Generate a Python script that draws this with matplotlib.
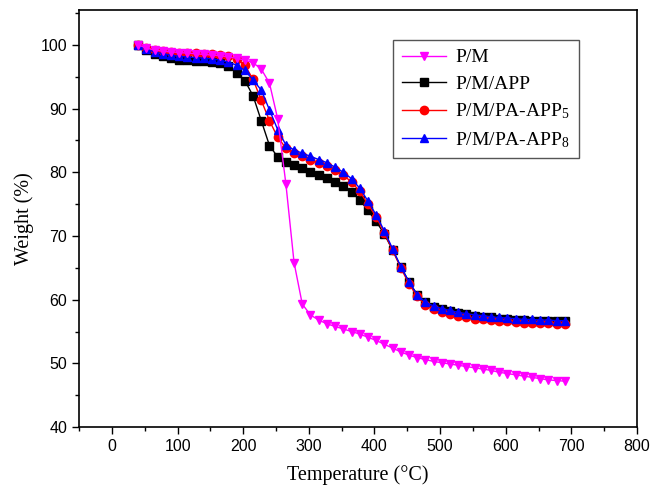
import numpy as np
import matplotlib
matplotlib.use("Agg")
import matplotlib.pyplot as plt
from matplotlib.ticker import MultipleLocator

plt.rcParams['mathtext.fontset'] = 'custom'
plt.rcParams['mathtext.rm'] = 'Liberation Serif'
plt.rcParams['mathtext.it'] = 'Liberation Serif:italic'

temperature = [40 + 12.5 * i for i in range(53)]

pm = [100.0, 99.5, 99.2, 99.0, 98.9, 98.8, 98.7, 98.6, 98.5, 98.4, 98.3, 98.1, 97.9,
      97.6, 97.2, 96.2, 94.0, 88.4, 78.2, 65.8, 59.3, 57.6, 56.8, 56.2, 55.8, 55.4,
      55.0, 54.6, 54.1, 53.6, 53.0, 52.4, 51.8, 51.3, 50.9, 50.6, 50.3, 50.1, 49.9,
      49.7, 49.5, 49.3, 49.1, 48.9, 48.6, 48.4, 48.2, 48.0, 47.8, 47.6, 47.4, 47.3, 47.2]

pm_app = [100.0, 99.2, 98.6, 98.2, 97.9, 97.7, 97.6, 97.5, 97.4, 97.3, 97.1, 96.7, 95.6,
          94.4, 92.0, 88.1, 84.2, 82.4, 81.6, 81.1, 80.6, 80.1, 79.6, 79.1, 78.5, 77.8,
          76.9, 75.7, 74.0, 72.3, 70.3, 67.8, 65.2, 62.8, 60.8, 59.6, 58.9, 58.5, 58.2,
          57.9, 57.7, 57.5, 57.3, 57.2, 57.0, 56.9, 56.8, 56.8, 56.7, 56.7, 56.6, 56.6, 56.6]

pm_pa_app5 = [100.0, 99.5, 99.2, 99.0, 98.9, 98.8, 98.7, 98.7, 98.6, 98.5, 98.4, 98.2, 97.8,
              96.8, 94.6, 91.3, 88.1, 85.5, 83.8, 83.0, 82.5, 82.0, 81.5, 81.0, 80.3, 79.5,
              78.5, 77.0, 75.0, 73.0, 70.5, 67.8, 65.0, 62.5, 60.5, 59.2, 58.5, 58.0, 57.7,
              57.4, 57.2, 57.0, 56.9, 56.8, 56.7, 56.6, 56.5, 56.4, 56.4, 56.3, 56.3, 56.2, 56.2]

pm_pa_app8 = [100.0, 99.3, 98.9, 98.6, 98.4, 98.2, 98.1, 98.0, 97.9, 97.8, 97.6, 97.3, 96.8,
              96.0, 94.5, 92.9, 89.8, 86.7, 84.3, 83.5, 83.0, 82.5, 82.0, 81.5, 80.8, 80.0,
              79.0, 77.5, 75.5, 73.3, 70.8, 68.0, 65.2, 62.8, 60.8, 59.6, 59.0, 58.6, 58.3,
              58.0, 57.8, 57.6, 57.5, 57.3, 57.2, 57.1, 57.0, 56.9, 56.9, 56.8, 56.8, 56.7, 56.7]

labels = ['P/M', 'P/M/APP', 'P/M/PA-APP$_5$', 'P/M/PA-APP$_8$']
x_ticks = [0, 100, 200, 300, 400, 500, 600, 700, 800]
y_ticks = [40, 50, 60, 70, 80, 90, 100]

fig = plt.figure(figsize=(6.54, 4.92), dpi=100)
ax = fig.add_axes([0.121, 0.132, 0.853, 0.848])

l_app, = ax.plot(temperature, pm_app, color='black', marker='s', markersize=5.5, lw=1.0,
                 label=labels[1], zorder=2)
l_5, = ax.plot(temperature, pm_pa_app5, color='red', marker='o', markersize=6, lw=1.0,
               label=labels[2], zorder=3)
l_8, = ax.plot(temperature, pm_pa_app8, color='blue', marker='^', markersize=6.2, lw=1.0,
               label=labels[3], zorder=4)
l_pm, = ax.plot(temperature, pm, color='magenta', marker='v', markersize=6.2, lw=1.0,
                label=labels[0], zorder=5)

ax.set_xlim(-50, 800)
ax.set_ylim(40, 105.5)
ax.set_xticks(x_ticks)
ax.set_yticks(y_ticks)
ax.xaxis.set_minor_locator(MultipleLocator(50))
ax.yaxis.set_minor_locator(MultipleLocator(5))
ax.tick_params(which='major', direction='out', length=5, width=1.0, labelsize=11.5,
               top=False, right=False)
ax.tick_params(which='minor', direction='out', length=3, width=1.0, top=False, right=False)
for lab in ax.get_xticklabels() + ax.get_yticklabels():
    lab.set_family('Liberation Sans')
for s in ax.spines.values():
    s.set_linewidth(1.2)

ax.set_xlabel('Temperature (°C)', family='Liberation Serif', fontsize=14.5, labelpad=8)
ax.set_ylabel('Weight (%)', family='Liberation Serif', fontsize=14.5, labelpad=5)

leg = ax.legend(handles=[l_pm, l_app, l_5, l_8], loc='upper left',
                bbox_to_anchor=(393 / 654, 1 - 40 / 492), bbox_transform=fig.transFigure,
                prop={'family': 'Liberation Serif', 'size': 14}, frameon=True,
                fancybox=False, edgecolor='#555555', framealpha=1, handlelength=2.3,
                handletextpad=0.45, borderaxespad=0, labelspacing=0.45, borderpad=0.45)
leg.get_frame().set_linewidth(1.0)

fig.savefig('out.png', dpi=100)
